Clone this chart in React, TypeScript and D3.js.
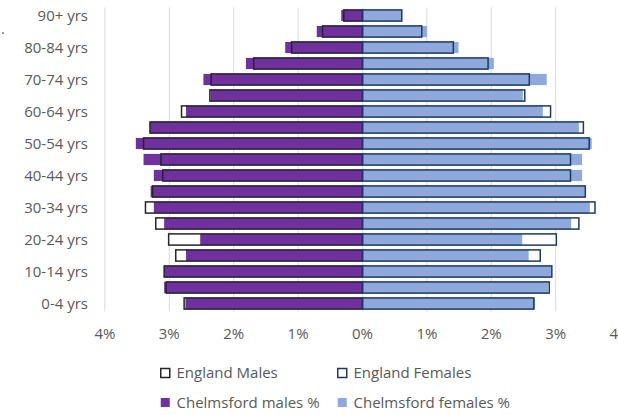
import React from "react";
import * as d3 from "d3";

// Age bands, youngest first
const ageGroups = [
  "0-4 yrs", "5-9 yrs", "10-14 yrs", "15-19 yrs", "20-24 yrs", "25-29 yrs",
  "30-34 yrs", "35-39 yrs", "40-44 yrs", "45-49 yrs", "50-54 yrs", "55-59 yrs",
  "60-64 yrs", "65-69 yrs", "70-74 yrs", "75-79 yrs", "80-84 yrs", "85-89 yrs", "90+ yrs",
];

// Share of total population (%) per age band
const englandMales = [2.77, 3.05, 3.08, 2.9, 3.01, 3.21, 3.37, 3.26, 3.1, 3.13, 3.4, 3.3, 2.81, 2.37, 2.35, 1.69, 1.1, 0.62, 0.29];
const chelmsfordMales = [2.75, 3.08, 3.08, 2.74, 2.52, 3.08, 3.24, 3.29, 3.24, 3.4, 3.52, 3.3, 2.74, 2.36, 2.47, 1.81, 1.2, 0.71, 0.33];
const englandFemales = [2.66, 2.9, 2.94, 2.76, 3.01, 3.36, 3.61, 3.46, 3.23, 3.23, 3.52, 3.43, 2.92, 2.52, 2.59, 1.95, 1.41, 0.92, 0.61];
const chelmsfordFemales = [2.68, 2.88, 2.93, 2.58, 2.48, 3.24, 3.53, 3.46, 3.41, 3.41, 3.56, 3.36, 2.8, 2.49, 2.86, 2.04, 1.49, 1.0, 0.61];

const xTicks = [-4, -3, -2, -1, 0, 1, 2, 3, 4];

const W = 618;
const H = 415;
const FONT = "'Open Sans', sans-serif";
const TEXT = "#595959";
const PURPLE = "#7030A0";
const LIGHTBLUE = "#8EA9DB";
const MALE_EDGE = "#262626";
const FEMALE_EDGE = "#1F3864";

export default function App() {
  const x = d3.scaleLinear().domain([-4, 4]).range([104.9, 620.1]);
  const y = d3
    .scaleBand<string>()
    .domain([...ageGroups].reverse())
    .range([7.5, 311.5])
    .paddingInner(0.3)
    .paddingOuter(0.15);
  const bw = y.bandwidth();
  const x0 = x(0);

  const barRect = (v: number) => {
    const a = x(v);
    return { x: Math.min(a, x0), w: Math.abs(a - x0) };
  };

  const legend = [
    { label: "England Males", col: 0, row: 0, fill: "#fff", stroke: MALE_EDGE },
    { label: "England Females", col: 1, row: 0, fill: "#fff", stroke: FEMALE_EDGE },
    { label: "Chelmsford males %", col: 0, row: 1, fill: PURPLE, stroke: "none" },
    { label: "Chelmsford females %", col: 1, row: 1, fill: LIGHTBLUE, stroke: "none" },
  ];
  const legendX = [160, 337];
  const legendY = [373, 402.5];

  return (
    <svg
      width={W}
      height={H}
      style={{ position: "absolute", left: 0, top: 0, background: "#fff" }}
    >
      {/* vertical gridlines */}
      {xTicks.map((t) => (
        <line
          key={"g" + t}
          x1={x(t)}
          x2={x(t)}
          y1={7.5}
          y2={311.5}
          stroke="#d9d9d9"
          strokeWidth={1}
        />
      ))}

      {/* England bars: white underlay */}
      {ageGroups.map((g, i) => {
        const m = barRect(-englandMales[i]);
        const f = barRect(englandFemales[i]);
        const yy = y(g)!;
        return (
          <g key={"eu" + g}>
            <rect x={m.x} y={yy} width={m.w} height={bw} fill="#fff" />
            <rect x={f.x} y={yy} width={f.w} height={bw} fill="#fff" />
          </g>
        );
      })}

      {/* Chelmsford bars */}
      {ageGroups.map((g, i) => {
        const m = barRect(-chelmsfordMales[i]);
        const f = barRect(chelmsfordFemales[i]);
        const yy = y(g)!;
        return (
          <g key={"c" + g}>
            <rect x={m.x} y={yy} width={m.w} height={bw} fill={PURPLE} />
            <rect x={f.x} y={yy} width={f.w} height={bw} fill={LIGHTBLUE} />
          </g>
        );
      })}

      {/* England outlines */}
      {ageGroups.map((g, i) => {
        const m = barRect(-englandMales[i]);
        const f = barRect(englandFemales[i]);
        const yy = y(g)!;
        return (
          <g key={"eo" + g}>
            <rect x={m.x} y={yy} width={m.w} height={bw} fill="none" stroke={MALE_EDGE} strokeWidth={1.5} />
            <rect x={f.x} y={yy} width={f.w} height={bw} fill="none" stroke={FEMALE_EDGE} strokeWidth={1.5} />
          </g>
        );
      })}

      {/* category labels (every other band) */}
      {ageGroups.map((g, i) =>
        i % 2 === 0 ? (
          <text
            key={"l" + g}
            x={88}
            y={y(g)! + bw / 2}
            dy="0.35em"
            textAnchor="end"
            fontFamily={FONT}
            fontSize={15}
            fill={TEXT}
          >
            {g}
          </text>
        ) : null
      )}

      {/* x tick labels */}
      {xTicks.map((t) => (
        <text
          key={"t" + t}
          x={x(t)}
          y={339}
          textAnchor="middle"
          fontFamily={FONT}
          fontSize={15}
          fill={TEXT}
        >
          {Math.abs(t) + "%"}
        </text>
      ))}

      <circle cx={3} cy={33} r={1} fill="#777" />

      {/* legend */}
      {legend.map((d) => (
        <g key={d.label} transform={`translate(${legendX[d.col]},${legendY[d.row]})`}>
          <rect
            x={0.75}
            y={-4.5}
            width={9}
            height={9}
            fill={d.fill}
            stroke={d.stroke}
            strokeWidth={1.5}
          />
          <text x={16.5} y={0} dy="0.35em" fontFamily={FONT} fontSize={15} fill={TEXT}>
            {d.label}
          </text>
        </g>
      ))}
    </svg>
  );
}
